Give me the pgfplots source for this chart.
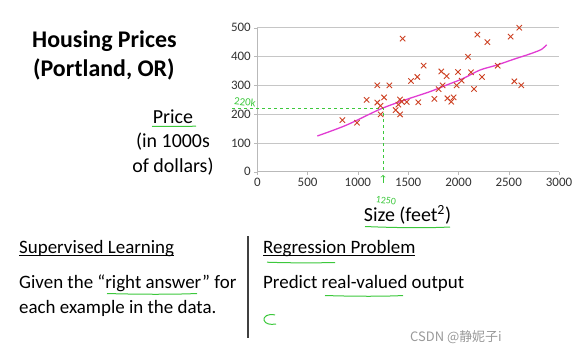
\documentclass[border=0pt]{standalone}
\usepackage{fontspec}
\setmainfont{Carlito}[Numbers=Lining]
\newfontfamily\cjk{Noto Sans CJK SC}
\usepackage{pgfplots}
\pgfplotsset{compat=1.18}
\definecolor{xred}{RGB}{205,65,35}
\definecolor{fitpink}{RGB}{225,60,210}
\definecolor{hgreen}{RGB}{60,200,60}
\newcommand\ul[1]{\setbox0\hbox{#1}\rlap{\rule[-2.6bp]{\wd0}{0.8bp}}\box0}
\pgfplotstableread{
x y
845 179
991 170
1087 249
1193 300
1193 240
1226 229
1226 199
1260 258
1313 300
1445 462
1376 214
1402 233
1419 251
1419 199
1435 243
1485 242
1528 315
1591 329
1601 241
1654 368
1760 253
1803 287
1830 348
1843 300
1883 332
1890 255
1929 243
1952 258
1982 300
1995 346
2032 316
2095 399
2125 345
2155 287
2188 476
2234 329
2287 450
2390 368
2519 469
2556 314
2605 500
2625 300
}\housing
\pgfplotstableread{
x y
597 124
888 162
1227 218
1485 251
1717 278
1883 301
2049 324
2214 353
2380 370
2546 390
2712 409
2828 425
2877 441
}\fitcurve
\begin{document}
\begin{tikzpicture}[x=1bp,y=1bp]
\path[use as bounding box] (0,0) rectangle (581,355);
\begin{axis}[at={(257.3bp,183.3bp)}, anchor=south west, scale only axis,
  width=301.7bp, height=144bp, xmin=0, xmax=3000, ymin=0, ymax=500,
  xtick={0,500,...,3000}, ytick={0,100,...,500},
  axis x line*=bottom, axis y line*=left,
  axis line style={gray!55,line width=0.6bp,-},
  ymajorgrids, major grid style={gray!45,line width=0.6bp},
  tick align=outside, major tick length=3bp, tick style={gray!55},
  tick label style={font=\fontsize{13}{13}\selectfont, text=black!80},
  /pgf/number format/assume math mode=true, /pgf/number format/1000 sep={},
  clip=false]
\addplot[fitpink, line width=1.3bp, smooth] table {\fitcurve};
\addplot[only marks, mark=x, mark size=3.8bp, xred, mark options={line width=0.9bp}] table {\housing};
\draw[hgreen, line width=0.8bp, dash pattern=on 3bp off 3bp] (axis cs:-250,220) -- (axis cs:1250,220) -- (axis cs:1250,0);
\draw[hgreen, line width=0.8bp, ->] (axis cs:1250,-38) -- (axis cs:1250,-11);
\end{axis}
% green handwritten labels
\node[hgreen, font=\fontsize{11}{11}\selectfont, rotate=-6, inner sep=0] at (245,253) {220k};
\node[hgreen, font=\fontsize{10}{10}\selectfont, rotate=-6, inner sep=0] at (386,154.5) {1250};
% title
\node[anchor=base west, inner sep=0, font=\fontsize{24}{24}\selectfont\bfseries] at (32,308) {Housing Prices};
\node[anchor=base west, inner sep=0, font=\fontsize{24}{24}\selectfont\bfseries] at (33,279) {(Portland, OR)};
% y label
\node[anchor=base, inner sep=0, font=\fontsize{20}{20}\selectfont] at (173,231.7) {Price};
\node[anchor=base, inner sep=0, font=\fontsize{20}{20}\selectfont] at (173,208) {(in 1000s};
\node[anchor=base, inner sep=0, font=\fontsize{20}{20}\selectfont] at (173,182.3) {of dollars)};
% x label
\node[anchor=base, inner sep=0, font=\fontsize{20}{20}\selectfont] at (407.5,133.3) {Size (feet\textsuperscript{2})};
% bottom text
\node[anchor=base west, inner sep=0, font=\fontsize{19}{19}\selectfont] at (19,101.7) {\ul{Supervised Learning}};
\node[anchor=base west, inner sep=0, font=\fontsize{19}{19}\selectfont] at (19,66.7) {Given the “right answer” for};
\node[anchor=base west, inner sep=0, font=\fontsize{19}{19}\selectfont] at (19,41.7) {each example in the data.};
\node[anchor=base west, inner sep=0, font=\fontsize{19}{19}\selectfont] at (263,101.7) {\ul{Regression Problem}};
\node[anchor=base west, inner sep=0, font=\fontsize{19}{19}\selectfont] at (263,66.7) {Predict real-valued output};
\draw[black!75, line width=1.3bp] (248,119) -- (248,17);
% green underlines
\draw[hgreen, line width=1bp] (152,228.5) .. controls (170,229) and (185,228) .. (196,229);
\draw[hgreen, line width=1bp] (365,128.5) .. controls (400,127) and (430,127) .. (450,128);
\draw[hgreen, line width=1bp] (267,92.8) .. controls (290,92) and (315,92) .. (335,92.5);
\draw[hgreen, line width=1bp] (107,61.5) .. controls (140,60.5) and (175,60.5) .. (197,61.5);
\draw[hgreen, line width=1bp] (325,59.5) .. controls (355,58.5) and (385,58.5) .. (403,59.5);
\draw[hgreen, line width=1bp] (275,40) .. controls (268,42) and (263,38) .. (264,35) .. controls (265,31) and (270,30) .. (276,31);
% watermark
\node[anchor=base west, inner sep=0, text=black!40, font=\fontsize{13}{13}\selectfont\cjk] at (410,14) {CSDN @静妮子i};
\end{tikzpicture}
\end{document}
